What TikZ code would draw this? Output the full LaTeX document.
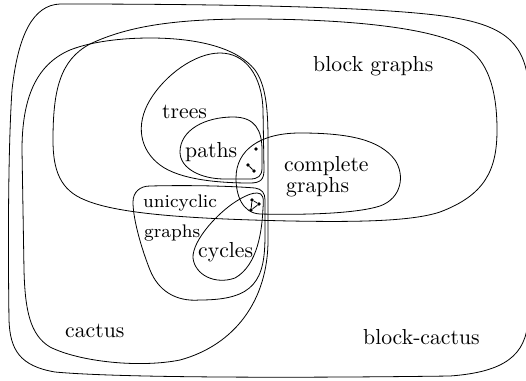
\documentclass[tikz,border=0pt]{standalone}
\usepackage{graphicx}
\newcommand{\bigtxt}[1]{\scalebox{2.17}{\fontsize{10}{12}\selectfont #1}}
\newcommand{\smtxt}[1]{\scalebox{2.17}{\fontsize{8.4}{10}\selectfont #1}}
\begin{document}
\begin{tikzpicture}[x=1pt,y=-1pt,
  region/.style={line width=0.8pt},
  lbl/.style={inner sep=0pt,anchor=base west},
  vtx/.style={circle,fill,inner sep=0pt,minimum size=3.6pt}]
\useasboundingbox (0,0) rectangle (526,380);
\clip (0,0) rectangle (526,380);
% block-cactus
\draw[region] (60,4) .. controls (200,4) and (380,6) .. (450,17) .. controls (500,25) and (523,40) .. (528,80) -- (528,320) .. controls (526,355) and (505,372) .. (450,376) .. controls (300,378) and (120,378) .. (55,372) .. controls (20,366) and (10,350) .. (9,320) .. controls (8,250) and (8,150) .. (12,90) .. controls (18,35) and (33,5) .. (60,4) -- cycle;
% cactus
\draw[region] (150,38) .. controls (190,38) and (235,45) .. (255,70) .. controls (266,85) and (268,110) .. (268,140) -- (268,240) .. controls (268,300) and (235,345) .. (180,360) .. controls (140,368) and (80,362) .. (50,347) .. controls (30,335) and (25,310) .. (24,270) -- (22,150) .. controls (22,100) and (35,65) .. (70,50) .. controls (90,42) and (120,38) .. (150,38) -- cycle;
% block graphs
\draw[region] (250,19) .. controls (350,19) and (440,28) .. (470,50) .. controls (490,65) and (497,95) .. (497,130) .. controls (497,170) and (485,195) .. (440,212) .. controls (410,222) and (350,222) .. (290,221) .. controls (200,219) and (120,215) .. (85,200) .. controls (60,190) and (53,170) .. (53,140) .. controls (53,90) and (60,60) .. (90,44) .. controls (130,25) and (180,19) .. (250,19) -- cycle;
% trees
\draw[region] (220,53) .. controls (245,53) and (262,75) .. (263,110) -- (264,170) .. controls (264,180) and (260,183) .. (250,183) .. controls (220,183) and (180,180) .. (160,165) .. controls (140,150) and (135,125) .. (150,100) .. controls (165,75) and (195,53) .. (220,53) -- cycle;
% paths
\draw[region] (233,117) .. controls (255,117) and (262,130) .. (262,150) -- (262,168) .. controls (262,176) and (258,179) .. (250,179) -- (225,179) .. controls (200,179) and (180,168) .. (180,152) .. controls (180,130) and (205,117) .. (233,117) -- cycle;
% complete graphs
\draw[region] (300,133) .. controls (350,133) and (380,140) .. (395,160) .. controls (405,175) and (402,198) .. (380,206) .. controls (355,214) and (300,215) .. (260,214) .. controls (242,213) and (236,195) .. (236,178) .. controls (236,150) and (260,133) .. (300,133) -- cycle;
% unicyclic graphs
\draw[region] (150,186) .. controls (190,185) and (230,186) .. (255,188) .. controls (262,189) and (265,193) .. (265,200) -- (265,235) .. controls (265,280) and (255,300) .. (200,300) .. controls (175,302) and (158,290) .. (150,270) .. controls (142,250) and (133,220) .. (133,202) .. controls (133,192) and (140,186) .. (150,186) -- cycle;
% cycles
\draw[region] (257,193) .. controls (263,193) and (264,198) .. (263,208) .. controls (262,230) and (258,265) .. (235,278) .. controls (215,285) and (195,275) .. (193,258) .. controls (192,240) and (220,210) .. (240,199) .. controls (247,195) and (252,193) .. (257,193) -- cycle;
% small graphs
\node[vtx] (k1) at (256,149) {};
\node[vtx] (k2a) at (248,165) {};
\node[vtx] (k2b) at (254,171) {};
\draw[region] (k2a) -- (k2b);
\node[vtx] (k3a) at (252,200) {};
\node[vtx] (k3b) at (259,204) {};
\node[vtx] (k3c) at (251,210) {};
\draw[region] (k3a) -- (k3b) -- (k3c) -- (k3a);
% labels
\node[lbl] (lblock) at (313,71) {\bigtxt{block graphs}};
\node[lbl] (ltrees) at (162,118) {\bigtxt{trees}};
\node[lbl] (lpaths) at (185,157) {\bigtxt{paths}};
\node[lbl] (lcomp1) at (284,171) {\bigtxt{complete}};
\node[lbl] (lcomp2) at (286,192) {\bigtxt{graphs}};
\node[lbl] (luni1) at (143,207) {\smtxt{unicyclic}};
\node[lbl] (luni2) at (144,237) {\smtxt{graphs}};
\node[lbl] (lcyc) at (198,257) {\bigtxt{cycles}};
\node[lbl] (lcactus) at (65,337) {\bigtxt{cactus}};
\node[lbl] (lbc) at (363,344) {\bigtxt{block-cactus}};
\end{tikzpicture}
\end{document}
